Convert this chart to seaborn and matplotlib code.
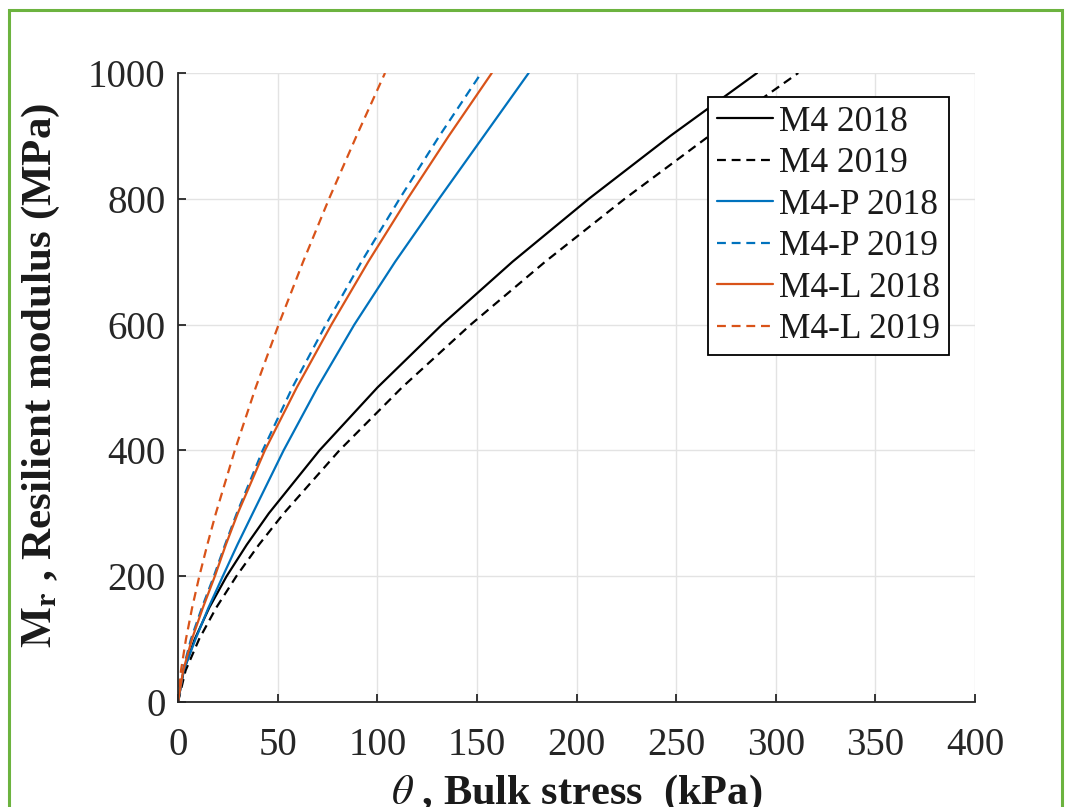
import numpy as np
import pandas as pd
import matplotlib
matplotlib.use("Agg")
import matplotlib.pyplot as plt
from matplotlib.patches import Rectangle
import seaborn as sns

# ---- data (theta in kPa, Mr in MPa) ----
labels = ["M4 2018", "M4 2019", "M4-P 2018", "M4-P 2019", "M4-L 2018", "M4-L 2019"]

mr_levels = [0, 50, 100, 150, 200, 250, 300, 400, 500, 600, 700, 800, 900, 1000]

m4_2018_theta  = [0, 2.9, 8.4, 15.7, 24.4, 34.5, 45.6, 71.0, 100.1, 132.5, 167.9, 206.2, 247.1, 290.6]
m4_2019_theta  = [0, 3.8, 10.6, 19.2, 29.3, 40.6, 53.1, 81.0, 112.4, 146.9, 184.3, 224.2, 266.6, 311.3]
m4p_2018_theta = [0, 2.8, 8.8, 15.3, 22.5, 29.8, 37.5, 53.0, 70.0, 88.5, 109.0, 131.0, 153.5, 176.0]
m4p_2019_theta = [0, 2.4, 6.5, 12.0, 18.0, 23.6, 29.5, 42.5, 57.4, 74.2, 92.1, 111.2, 131.2, 152.2]
m4l_2018_theta = [0, 2.6, 7.0, 12.5, 18.5, 24.0, 30.0, 43.6, 59.6, 77.0, 95.5, 115.2, 135.9, 157.5]
m4l_2019_theta = [0, 1.5, 4.0, 7.1, 10.7, 14.7, 19.0, 28.5, 39.0, 50.5, 62.8, 75.8, 89.6, 103.9]

x_ticks = [0, 50, 100, 150, 200, 250, 300, 350, 400]
y_ticks = [0, 200, 400, 600, 800, 1000]

thetas = [m4_2018_theta, m4_2019_theta, m4p_2018_theta,
          m4p_2019_theta, m4l_2018_theta, m4l_2019_theta]
frames = []
for lab, th in zip(labels, thetas):
    frames.append(pd.DataFrame({"theta": th, "Mr": mr_levels, "label": lab}))
df = pd.concat(frames, ignore_index=True)

black = "#000000"
blue = "#0072BD"
orange = "#D95319"
palette = {"M4 2018": black, "M4 2019": black,
           "M4-P 2018": blue, "M4-P 2019": blue,
           "M4-L 2018": orange, "M4-L 2019": orange}
dash = (4, 2.6)
dashes = {"M4 2018": "", "M4 2019": dash,
          "M4-P 2018": "", "M4-P 2019": dash,
          "M4-L 2018": "", "M4-L 2019": dash}

sns.set_theme(style="white")
plt.rcParams["font.family"] = ["Liberation Serif", "DejaVu Serif"]
plt.rcParams["mathtext.fontset"] = "stix"

fig = plt.figure(figsize=(10.65, 8.07), dpi=100)
fig.patch.set_facecolor("white")
ax = fig.add_axes([178 / 1065, 1 - 702 / 807, (975 - 178) / 1065, (702 - 73) / 807])
ax.set_facecolor("white")

sns.lineplot(data=df, x="theta", y="Mr", hue="label", style="label",
             hue_order=labels, style_order=labels,
             palette=palette, dashes=dashes, estimator=None, sort=False,
             linewidth=1.6, ax=ax)
for ln in ax.get_lines():
    ln.set_solid_joinstyle("round")
    ln.set_dash_joinstyle("round")

ax.set_xlim(0, 400)
ax.set_ylim(0, 1000)
ax.set_xticks(x_ticks)
ax.set_yticks(y_ticks)
ax.grid(True, color="#E3E3E3", linewidth=1.0)
ax.set_axisbelow(True)
for s in ["top", "right"]:
    ax.spines[s].set_visible(False)
for s in ["left", "bottom"]:
    ax.spines[s].set_color("#262626")
    ax.spines[s].set_linewidth(1.3)
ax.tick_params(axis="both", direction="in", length=6, width=1.3, color="#262626",
               labelsize=28, labelcolor="#262626", left=True, bottom=True)
ax.tick_params(axis="y", pad=9)
ax.tick_params(axis="x", pad=18)

ax.set_xlabel(r"$\theta$ , Bulk stress  (kPa)", fontsize=30.5, fontweight="bold", color="#1a1a1a")
ax.set_ylabel(r"$\mathbf{M_r}$ , Resilient modulus (MPa)", fontsize=31, fontweight="bold", color="#1a1a1a")
ax.xaxis.set_label_coords(0.5, -0.112)
ax.yaxis.set_label_coords(-0.146, 0.52)

handles, labs = ax.get_legend_handles_labels()
leg = ax.legend(handles, labs, loc="upper left",
                bbox_to_anchor=(708 / 1065, 1 - 97 / 807), bbox_transform=fig.transFigure,
                borderaxespad=0, fontsize=25.5, frameon=True, fancybox=False,
                edgecolor="#000000", framealpha=1, handlelength=1.58, handletextpad=0.17,
                labelspacing=0.24, borderpad=0.25)
leg.get_frame().set_linewidth(1.3)
for t in leg.get_texts():
    t.set_color("#1a1a1a")

# green frame around the figure
fig.patches.append(Rectangle((9 / 1065, -0.05), (1062 - 9) / 1065, 1.05 - 10 / 807,
                             transform=fig.transFigure, fill=False,
                             edgecolor="#6CB33F", linewidth=2.2, zorder=10))

fig.savefig("out.png", dpi=100)
